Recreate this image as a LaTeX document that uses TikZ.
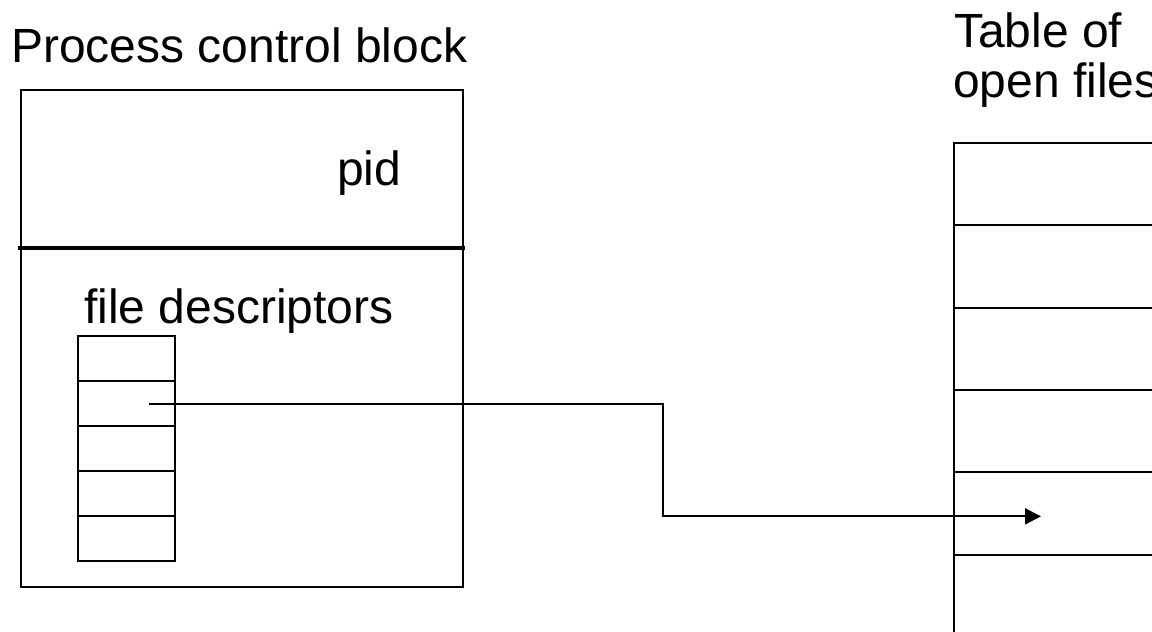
\documentclass[tikz,border=0pt]{standalone}
\usepackage{fontspec}
\setmainfont{Liberation Sans}
\usetikzlibrary{arrows.meta,calc}
\begin{document}
\begin{tikzpicture}[x=1pt,y=-1pt,
  lbl/.style={inner sep=0pt,anchor=base west,font=\fontsize{48}{50}\selectfont},
  box/.style={draw,line width=2pt,inner sep=0pt,anchor=north west},
  fdcell/.style={box,minimum width=97pt,minimum height=45pt},
  ofrow/.style={box,minimum width=320pt,minimum height=82.3pt},
  conn/.style={line width=2pt,-{Triangle[length=16pt,width=16pt]}}]
\useasboundingbox (0,0) rectangle (1152,632);
% Process control block
\node[lbl] (pcbtitle) at (11,62) {Process control block};
\node[box,minimum width=442pt,minimum height=497pt] (pcb) at (20,89) {};
\coordinate (divl) at (18,248);
\coordinate (divr) at (465,248);
\draw[line width=4pt] (divl) -- (divr);
\node[lbl] (pid) at (337,185) {pid};
\node[lbl] (fdlabel) at (84,323) {file descriptors};
% file descriptor table
\foreach \i in {1,...,5}{
  \node[fdcell] (fd\i) at (77,{335+45*(\i-1)}) {};
}
% table of open files
\node[lbl] (oftitleA) at (954,47) {Table of};
\node[lbl] (oftitleB) at (953,97) {open files};
\foreach \i in {1,...,7}{
  \node[ofrow] (of\i) at (953,{142+82.3*(\i-1)}) {};
}
% connector
\coordinate (src) at ($(fd2.center)+(22.5,0)$);
\coordinate (bend) at (663,0);
\coordinate (tip) at ($(of5.west)+(88,3)$);
\draw[conn] (src) -- (src -| bend) |- (tip);
\end{tikzpicture}
\end{document}
